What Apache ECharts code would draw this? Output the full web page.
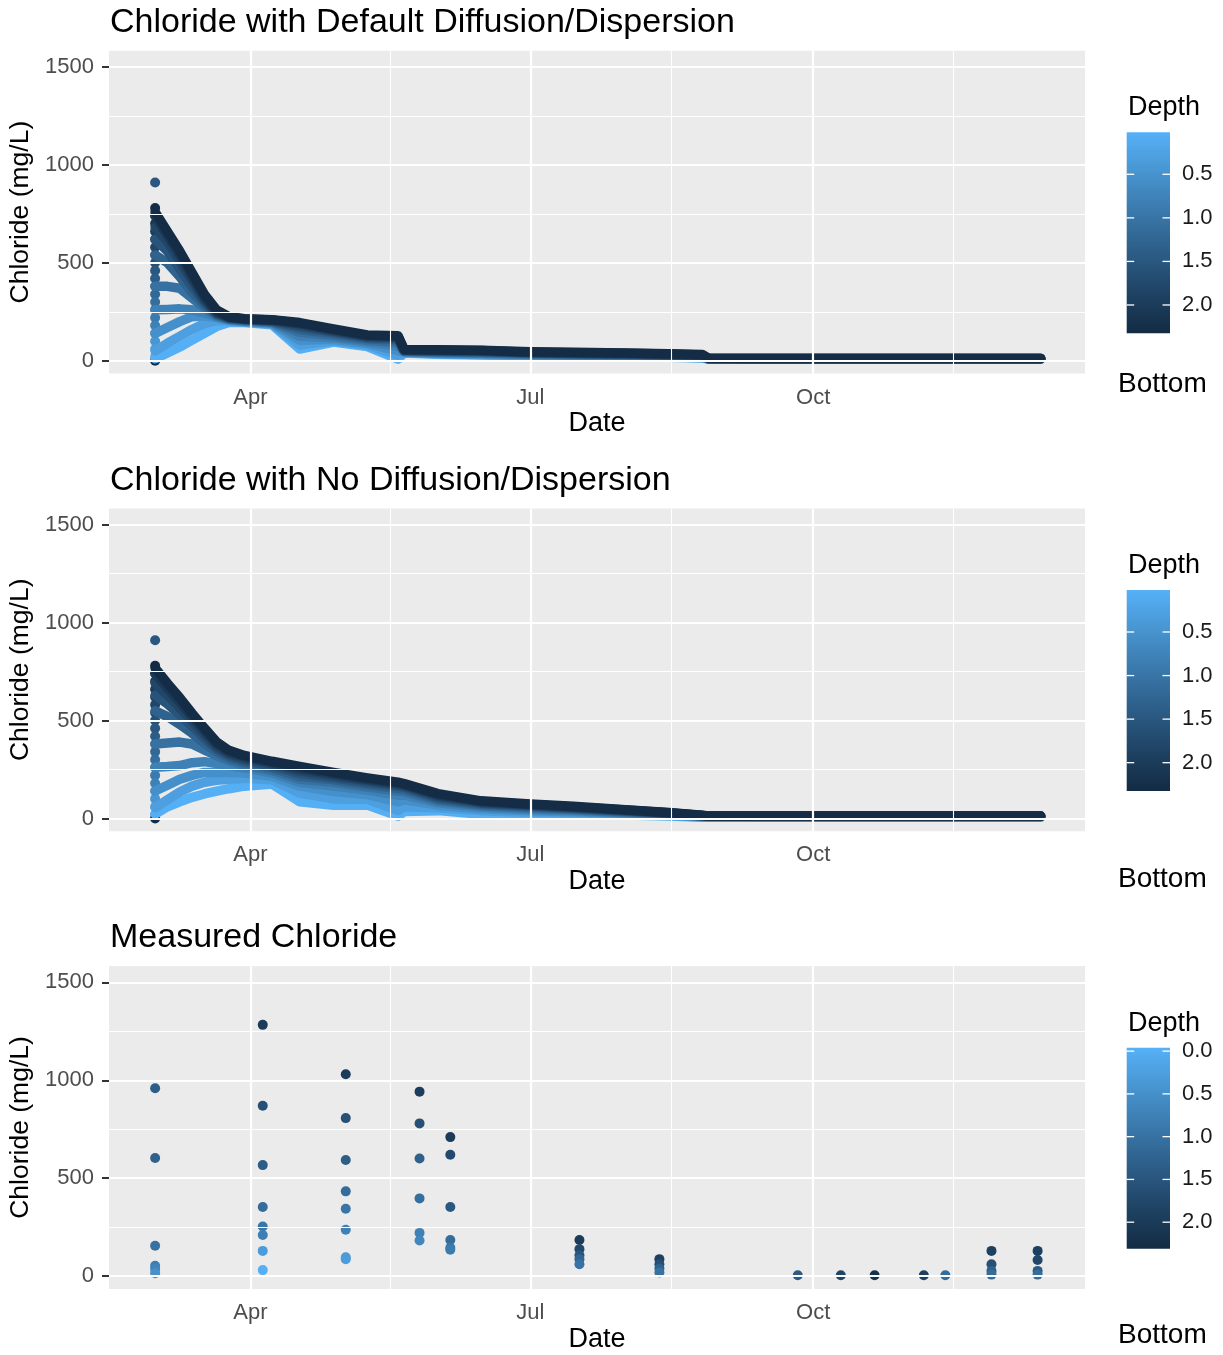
<!DOCTYPE html>
<html>
<head>
<meta charset="utf-8">
<title>Chloride</title>
<script src="https://cdn.jsdelivr.net/npm/echarts@6/dist/echarts.min.js"></script>
<style>
    html, body { margin: 0; padding: 0; background: #fff; }
    #chart { width: 1223px; height: 1355px; }
    #err { position: absolute; left: 10px; top: 10px; font: 12px monospace; color: red; white-space: pre; }
</style>
</head>
<body>
<div id="chart"></div>
<div id="err"></div>
<script>
// panel titles
var titles = ['Chloride with Default Diffusion/Dispersion', 'Chloride with No Diffusion/Dispersion', 'Measured Chloride'];

// simulated series: one row per depth layer, values at simDates
var simDates = ['2017-03-01', '2017-03-05', '2017-03-09', '2017-03-13', '2017-03-17', '2017-03-21', '2017-03-25', '2017-03-30',
    '2017-04-08', '2017-04-17', '2017-04-28', '2017-05-09', '2017-05-19', '2017-05-21', '2017-06-01', '2017-06-15',
    '2017-07-01', '2017-07-15', '2017-08-01', '2017-08-15', '2017-08-26', '2017-08-28', '2017-09-15', '2017-10-15',
    '2017-11-15', '2017-12-14'];
var simDepths = [0.05, 0.3, 0.55, 0.8, 1.05, 1.3, 1.55, 1.8, 2.05, 2.3];

var defaultVals = [
    [10, 40, 70, 105, 140, 175, 195, 195, 184, 60, 95, 72, 8, 40, 33, 29, 24, 22, 20, 18, 14, 8, 8, 8, 8, 8],
    [50, 90, 125, 160, 190, 205, 203, 198, 188, 80, 102, 80, 28, 42, 36, 32, 27, 25, 23, 20, 16, 9, 8, 8, 8, 8],
    [140, 170, 200, 225, 230, 220, 207, 200, 191, 105, 110, 88, 52, 44, 38, 35, 30, 27, 25, 22, 18, 9, 9, 9, 9, 9],
    [260, 262, 265, 260, 245, 225, 210, 203, 194, 125, 118, 96, 75, 46, 41, 38, 32, 30, 28, 24, 20, 10, 9, 9, 9, 9],
    [380, 380, 370, 320, 270, 230, 212, 205, 197, 145, 128, 104, 92, 48, 44, 41, 35, 32, 30, 26, 22, 10, 10, 10, 10, 10],
    [540, 500, 430, 350, 285, 235, 215, 208, 200, 160, 138, 112, 105, 50, 47, 44, 38, 35, 32, 28, 24, 11, 10, 10, 10, 10],
    [620, 560, 470, 380, 300, 240, 218, 210, 203, 172, 146, 118, 113, 52, 50, 47, 40, 37, 34, 30, 26, 11, 11, 11, 11, 11],
    [680, 610, 510, 410, 310, 245, 220, 212, 206, 182, 152, 124, 119, 54, 52, 50, 42, 39, 36, 32, 28, 12, 11, 11, 11, 11],
    [740, 640, 540, 430, 325, 250, 222, 213, 208, 190, 158, 128, 124, 56, 54, 52, 44, 41, 38, 34, 30, 12, 12, 12, 12, 12],
    [760, 660, 560, 450, 340, 260, 225, 215, 210, 195, 162, 132, 128, 58, 56, 54, 46, 43, 40, 36, 32, 13, 12, 12, 12, 12]
];

var noDiffVals = [
    [22, 60, 85, 108, 125, 140, 152, 165, 176, 85, 68, 68, 12, 35, 40, 22, 22, 20, 18, 12, 6, 6, 6, 6, 6, 6],
    [55, 95, 135, 165, 185, 195, 200, 205, 198, 130, 100, 98, 40, 60, 55, 40, 32, 28, 22, 16, 8, 8, 8, 8, 8, 8],
    [140, 170, 200, 220, 235, 235, 235, 232, 215, 165, 138, 122, 85, 95, 68, 50, 40, 34, 26, 19, 10, 9, 9, 9, 9, 9],
    [262, 265, 270, 285, 290, 280, 270, 258, 232, 185, 165, 145, 118, 120, 80, 58, 46, 39, 29, 21, 11, 10, 10, 10, 10, 10],
    [380, 385, 390, 380, 350, 320, 295, 272, 245, 200, 185, 160, 140, 137, 90, 65, 52, 44, 32, 23, 12, 11, 10, 10, 10, 10],
    [550, 520, 480, 435, 385, 340, 308, 285, 257, 215, 198, 173, 153, 149, 98, 71, 58, 48, 35, 25, 13, 11, 11, 11, 11, 11],
    [630, 585, 530, 470, 410, 355, 320, 295, 267, 230, 208, 184, 164, 159, 106, 77, 63, 52, 38, 26, 14, 12, 11, 11, 11, 11],
    [690, 630, 565, 497, 430, 368, 330, 305, 277, 243, 218, 193, 172, 167, 114, 82, 67, 56, 41, 28, 15, 12, 12, 12, 12, 12],
    [740, 665, 595, 520, 448, 380, 340, 315, 285, 255, 228, 200, 179, 173, 121, 86, 71, 59, 43, 29, 15, 13, 12, 12, 12, 12],
    [768, 690, 617, 537, 462, 391, 348, 322, 292, 266, 235, 207, 185, 178, 127, 90, 74, 62, 45, 30, 16, 13, 12, 12, 12, 12]
];

// starting profile on the first day (shared by both simulations)
var startDate = '2017-03-01';
var startVals = [910, 780, 740, 700, 660, 620, 580, 540, 500, 460, 420, 380, 340, 300, 260, 220, 180, 140, 100, 60, 20, 0];
var startDepths = [1.5, 2.3, 2.2, 2.1, 2.0, 1.9, 1.8, 1.7, 1.6, 1.5, 1.4, 1.3, 1.2, 1.1, 1.0, 0.9, 0.8, 0.6, 0.45, 0.3, 0.15, 2.3];

// measured samples
var measDates = ['2017-03-01', '2017-04-05', '2017-05-02', '2017-05-26', '2017-06-05', '2017-07-17', '2017-08-12',
    '2017-09-26', '2017-10-10', '2017-10-21', '2017-11-06', '2017-11-13', '2017-11-28', '2017-12-13'];
var measVals = [
    [959, 603, 155, 53, 36, 15],
    [1283, 870, 567, 353, 254, 210, 129, 31],
    [1031, 807, 593, 433, 344, 237, 96, 87],
    [942, 780, 601, 397, 221, 182],
    [710, 620, 353, 185, 145, 135],
    [185, 138, 107, 87, 61],
    [87, 61, 39, 19],
    [5], [5], [5], [5], [5],
    [129, 61, 27, 8],
    [129, 83, 27, 8]
];
var measDepths = [
    [1.35, 1.3, 1.0, 0.8, 0.7, 0.5],
    [2.0, 1.6, 1.37, 1.1, 0.92, 0.78, 0.3, 0.0],
    [2.0, 1.6, 1.35, 1.1, 0.95, 0.75, 0.35, 0.3],
    [1.95, 1.6, 1.3, 1.05, 0.75, 0.65],
    [2.0, 1.7, 1.45, 1.1, 0.9, 0.85],
    [2.0, 1.75, 1.5, 1.2, 1.0],
    [1.9, 1.6, 1.3, 1.0],
    [1.4], [1.8], [2.2], [1.9], [1.1],
    [1.9, 1.6, 1.3, 1.1],
    [1.9, 1.75, 1.4, 1.1]
];

// axes
var xRange = ['2017-02-14T00:00:00', '2017-12-28T10:00:00'];
var yRange = [-65, 1583];
var monthTicks = ['2017-04-01', '2017-07-01', '2017-10-01'];
var monthMinor = ['2017-05-16T12:00:00', '2017-08-16', '2017-11-15T12:00:00'];
var monthNames = ['Jan', 'Feb', 'Mar', 'Apr', 'May', 'Jun', 'Jul', 'Aug', 'Sep', 'Oct', 'Nov', 'Dec'];
var yTicks = [0, 500, 1000, 1500];
var yMinor = [250, 750, 1250];

// colour bar range and labels per panel
var depthLimits = [[0.018, 2.325], [0.018, 2.325], [-0.04, 2.31]];
var depthTicks = [[0.5, 1.0, 1.5, 2.0], [0.5, 1.0, 1.5, 2.0], [0.0, 0.5, 1.0, 1.5, 2.0]];

// ggplot default gradient (Lab), light -> dark
var gradStops = ['#56B1F7', '#448DC6', '#336A98', '#22496C', '#132B43'];

(function () {
    var FONT = '"Liberation Sans", Arial, sans-serif';
    var panelTop = 50.7, panelStep = 457.7, panelH = 322.8, panelLeft = 109, panelW = 976;

    function ts(s) {
        return new Date(s.length > 10 ? s : s + 'T00:00:00').getTime();
    }

    function hexRgb(h) {
        return [parseInt(h.substr(1, 2), 16), parseInt(h.substr(3, 2), 16), parseInt(h.substr(5, 2), 16)];
    }

    function depthColor(d, lim) {
        var t = (d - lim[0]) / (lim[1] - lim[0]);
        t = Math.max(0, Math.min(1, t)) * (gradStops.length - 1);
        var i = Math.min(Math.floor(t), gradStops.length - 2);
        var f = t - i;
        var a = hexRgb(gradStops[i]), b = hexRgb(gradStops[i + 1]);
        return 'rgb(' + Math.round(a[0] + (b[0] - a[0]) * f) + ',' + Math.round(a[1] + (b[1] - a[1]) * f) + ',' +
            Math.round(a[2] + (b[2] - a[2]) * f) + ')';
    }

    function monthLabel(v) {
        return monthNames[new Date(v).getMonth()];
    }

    var grids = [], xAxes = [], yAxes = [], series = [], graphics = [];

    for (var p = 0; p < 3; p++) {
        var gridTop = panelTop + p * panelStep;
        grids.push({
            left: panelLeft, top: gridTop, width: panelW, height: panelH,
            show: true, backgroundColor: '#EBEBEB', borderWidth: 0,
            outerBoundsMode: 'none', containLabel: false
        });
        // dates are plotted as millisecond numbers on a value axis
        xAxes.push({
            type: 'value', gridIndex: p, min: ts(xRange[0]), max: ts(xRange[1]),
            axisLine: {show: false},
            axisTick: {show: true, length: 7, lineStyle: {color: '#333333', width: 2}, customValues: monthTicks.map(ts)},
            axisLabel: {
                customValues: monthTicks.map(ts), margin: 13, color: '#4D4D4D', fontSize: 22, fontFamily: FONT,
                formatter: monthLabel
            },
            splitLine: {show: false},
            name: 'Date', nameLocation: 'middle', nameGap: 37,
            nameTextStyle: {color: '#000', fontSize: 27, fontFamily: FONT}
        });
        yAxes.push({
            type: 'value', gridIndex: p, min: yRange[0], max: yRange[1],
            axisLine: {show: false},
            axisTick: {show: true, length: 7, lineStyle: {color: '#333333', width: 2}, customValues: yTicks},
            axisLabel: {
                customValues: yTicks, margin: 15, color: '#4D4D4D', fontSize: 22, fontFamily: FONT,
                formatter: function (v) { return String(v); }
            },
            splitLine: {show: false},
            name: 'Chloride (mg/L)', nameLocation: 'middle', nameGap: 57, nameRotate: 90,
            nameTextStyle: {color: '#000', fontSize: 26.5, fontFamily: FONT}
        });

        // grid lines
        var gl = [];
        yMinor.forEach(function (v) { gl.push({yAxis: v, lineStyle: {color: '#fff', width: 1.1, type: 'solid'}}); });
        monthMinor.forEach(function (v) { gl.push({xAxis: ts(v), lineStyle: {color: '#fff', width: 1.1, type: 'solid'}}); });
        yTicks.forEach(function (v) { gl.push({yAxis: v, lineStyle: {color: '#fff', width: 2.2, type: 'solid'}}); });
        monthTicks.forEach(function (v) { gl.push({xAxis: ts(v), lineStyle: {color: '#fff', width: 2.2, type: 'solid'}}); });
        series.push({
            type: 'line', xAxisIndex: p, yAxisIndex: p, data: [], z: 1, silent: true,
            markLine: {silent: true, symbol: ['none', 'none'], label: {show: false}, animation: false, data: gl}
        });

        // colour bar legend
        var lim = depthLimits[p];
        var barTop = 132.3 + p * panelStep, barH = 201, barX = 1126.7, barW = 43.3;
        graphics.push({
            type: 'text', x: 110, y: 22.5 + p * panelStep, z: 10,
            style: {text: titles[p], fill: '#000', font: '34px ' + FONT, verticalAlign: 'middle'}
        });
        graphics.push({
            type: 'text', x: 1128, y: 108 + p * panelStep, z: 10,
            style: {text: 'Depth', fill: '#000', font: '27px ' + FONT, verticalAlign: 'middle'}
        });
        var stops = [];
        for (var k = 0; k < gradStops.length; k++) {
            stops.push({offset: k / (gradStops.length - 1), color: gradStops[k]});
        }
        graphics.push({
            type: 'rect', z: 10, shape: {x: barX, y: barTop, width: barW, height: barH},
            style: {fill: {type: 'linear', x: 0, y: 0, x2: 0, y2: 1, colorStops: stops}}
        });
        for (var j = 0; j < depthTicks[p].length; j++) {
            var d = depthTicks[p][j];
            var ty = barTop + (d - lim[0]) / (lim[1] - lim[0]) * barH;
            graphics.push({type: 'line', z: 11, shape: {x1: barX, y1: ty, x2: barX + 7.5, y2: ty}, style: {stroke: '#fff', lineWidth: 1.3}});
            graphics.push({type: 'line', z: 11, shape: {x1: barX + barW - 7.5, y1: ty, x2: barX + barW, y2: ty}, style: {stroke: '#fff', lineWidth: 1.3}});
            graphics.push({
                type: 'text', x: 1182, y: ty, z: 11,
                style: {text: d.toFixed(1), fill: '#1a1a1a', font: '22px ' + FONT, verticalAlign: 'middle'}
            });
        }
    }

    // captions under the legends
    [384, 879, 1335.7].forEach(function (cy) {
        graphics.push({
            type: 'text', x: 1118, y: cy, z: 10,
            style: {text: 'Bottom', fill: '#000', font: '28px ' + FONT, verticalAlign: 'middle'}
        });
    });

    // simulated layers, shallow first so deep layers sit on top
    [defaultVals, noDiffVals].forEach(function (vals, p) {
        var startData = [];
        for (var k = 0; k < startVals.length; k++) {
            startData.push({value: [ts(startDate), startVals[k]], itemStyle: {color: depthColor(startDepths[k], depthLimits[p])}});
        }
        series.push({
            type: 'scatter', xAxisIndex: p, yAxisIndex: p, z: 2, silent: true, symbolSize: 10,
            itemStyle: {opacity: 1}, data: startData
        });
        vals.forEach(function (row, i) {
            series.push({
                type: 'line', xAxisIndex: p, yAxisIndex: p, z: 3, silent: true,
                showSymbol: false, symbol: 'none', smooth: false,
                data: simDates.map(function (d, k) { return [ts(d), row[k]]; }),
                lineStyle: {width: 9.5, color: depthColor(simDepths[i], depthLimits[p]), cap: 'round', join: 'round'}
            });
        });
    });

    // measured points
    var measData = [];
    measDates.forEach(function (d, i) {
        measVals[i].forEach(function (v, k) {
            measData.push({value: [ts(d), v], itemStyle: {color: depthColor(measDepths[i][k], depthLimits[2])}});
        });
    });
    series.push({
        type: 'scatter', xAxisIndex: 2, yAxisIndex: 2, z: 3, silent: true, symbolSize: 10,
        itemStyle: {opacity: 1}, data: measData
    });

    try {
        var chart = echarts.init(document.getElementById('chart'));
        chart.setOption({
            animation: false,
            backgroundColor: '#fff',
            grid: grids,
            xAxis: xAxes,
            yAxis: yAxes,
            series: series,
            graphic: graphics
        });
    } catch (e) {
        document.getElementById('err').textContent = String(e) + '\n' + String(e.stack).split('\n').slice(0, 12).join('\n');
    }
})();
</script>
</body>
</html>
